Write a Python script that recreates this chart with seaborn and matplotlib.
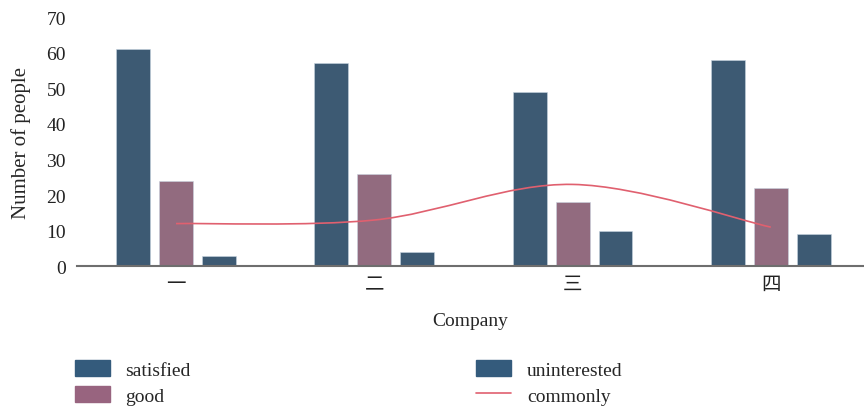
import numpy as np
import pandas as pd
import seaborn as sns
import matplotlib.pyplot as plt
from matplotlib.path import Path
from matplotlib.patches import PathPatch
from matplotlib.lines import Line2D
from matplotlib.patches import Patch

companies = ['一', '二', '三', '四']
satisfied = [61, 57, 49, 58]
good = [24, 26, 18, 22]
uninterested = [3, 4, 10, 9]
commonly = [12, 13, 23, 11]

blue = '#345b7c'
mauve = '#98647f'
red = '#e0606f'

sns.set_style('white')
plt.rcParams['font.family'] = ['Liberation Serif', 'Noto Sans CJK SC']

df = pd.DataFrame({
    'Company': companies * 3,
    'count': satisfied + good + uninterested,
    'series': ['satisfied'] * 4 + ['good'] * 4 + ['uninterested'] * 4,
})

fig, ax = plt.subplots(figsize=(8.64, 4.10), dpi=100)
fig.subplots_adjust(left=0.089, right=1.0, top=0.956, bottom=0.348)

sns.barplot(data=df, x='Company', y='count', hue='series',
            palette={'satisfied': blue, 'good': mauve, 'uninterested': blue},
            width=0.65, gap=0.21, edgecolor='#c8d4e0', linewidth=0.4,
            legend=False, ax=ax)

# smooth line (cardinal spline drawn as cubic bezier segments)
xs = np.arange(len(commonly), dtype=float)
ys = np.array(commonly, dtype=float)
px = np.concatenate([[xs[0]], xs, [xs[-1]]])
py = np.concatenate([[ys[0]], ys, [ys[-1]]])
verts = [(xs[0], ys[0])]
codes = [Path.MOVETO]
for i in range(1, len(px) - 2):
    c1 = (px[i] + (px[i + 1] - px[i - 1]) / 6, py[i] + (py[i + 1] - py[i - 1]) / 6)
    c2 = (px[i + 1] - (px[i + 2] - px[i]) / 6, py[i + 1] - (py[i + 2] - py[i]) / 6)
    verts += [c1, c2, (px[i + 1], py[i + 1])]
    codes += [Path.CURVE4] * 3
ax.add_patch(PathPatch(Path(verts, codes), facecolor='none', edgecolor=red, lw=1.2))

ax.set_xlim(-0.5, 3.47)
ax.set_ylim(0, 70)
ax.set_yticks(range(0, 71, 10))
ax.tick_params(axis='both', length=0, labelsize=14, colors='#222222')
ax.tick_params(axis='y', pad=8)
ax.tick_params(axis='x', pad=7)
ax.set_xlabel('Company', fontsize=14, labelpad=14)
ax.set_ylabel('Number of people', fontsize=15)
ax.yaxis.set_label_coords(-0.058, 0.5)
sns.despine(ax=ax, left=True)
ax.spines['bottom'].set_color('#6e6e6e')
ax.spines['bottom'].set_linewidth(1.5)

handles = [Patch(color=blue), Patch(color=mauve), Patch(color=blue),
           Line2D([], [], color=red, lw=1.2)]
labels = ['satisfied', 'good', 'uninterested', 'commonly']
fig.legend(handles, labels, ncol=2, loc='lower left', bbox_to_anchor=(0.066, -0.032),
           frameon=False, fontsize=14, handlelength=1.8, handleheight=0.85,
           columnspacing=14.7, labelspacing=0.38, handletextpad=0.8)

fig.savefig('out.png', dpi=100)
